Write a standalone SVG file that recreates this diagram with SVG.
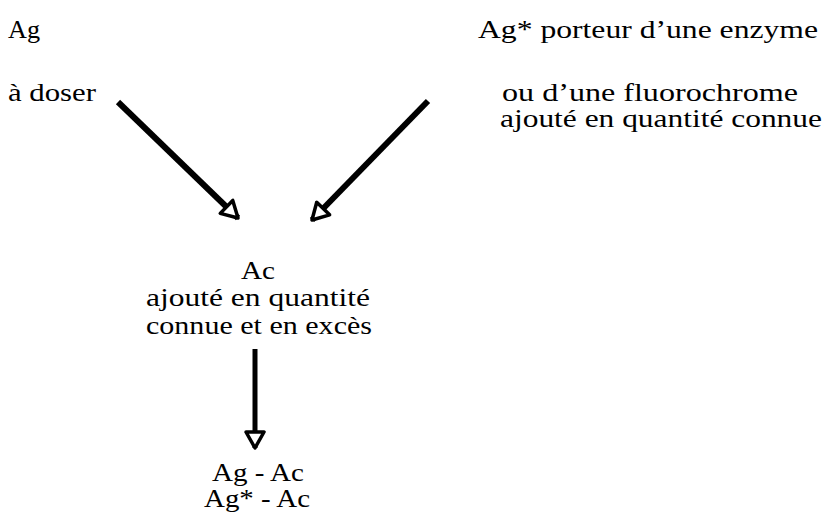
<svg xmlns="http://www.w3.org/2000/svg" width="825" height="518" viewBox="0 0 825 518">
<style>
  text { font-family: 'Times New Roman', Tinos, 'Nimbus Roman', 'Nimbus Roman No9 L', FreeSerif, 'Noto Serif', 'DejaVu Serif', serif; font-size: 25px; fill: #000; }
  .c { text-anchor: middle; }
  .conn { stroke: #000; fill: none; stroke-linecap: butt; }
</style>
<defs>
  <marker id="head" markerUnits="userSpaceOnUse" markerWidth="40" markerHeight="40" viewBox="-25 -20 40 40" refX="0" refY="0" orient="auto" overflow="visible">
    <path d="M0,0 L-16,-9 L-16,9 Z" fill="#fff" stroke="#000" stroke-width="3.5" stroke-linejoin="round"/>
  </marker>
</defs>
<rect width="825" height="518" fill="#fff"/>
<g id="ag">
  <text x="8" y="38" textLength="32" lengthAdjust="spacingAndGlyphs">Ag</text>
  <text x="8" y="101" textLength="88" lengthAdjust="spacingAndGlyphs">à doser</text>
</g>
<g id="ag-star">
  <text x="478" y="38" textLength="340" lengthAdjust="spacingAndGlyphs">Ag* porteur d’une enzyme</text>
  <text x="502" y="101" textLength="296" lengthAdjust="spacingAndGlyphs">ou d’une fluorochrome</text>
  <text x="500" y="127" textLength="322" lengthAdjust="spacingAndGlyphs">ajouté en quantité connue</text>
</g>
<g id="ac">
  <text x="241" y="279" textLength="34" lengthAdjust="spacingAndGlyphs">Ac</text>
  <text x="146" y="306" textLength="224" lengthAdjust="spacingAndGlyphs">ajouté en quantité</text>
  <text x="146" y="334" textLength="226" lengthAdjust="spacingAndGlyphs">connue et en excès</text>
</g>
<g id="complex">
  <text x="212" y="481" textLength="92" lengthAdjust="spacingAndGlyphs">Ag - Ac</text>
  <text x="204" y="507" textLength="106" lengthAdjust="spacingAndGlyphs">Ag* - Ac</text>
</g>
<g id="connectors">
  <line class="conn" x1="118" y1="102" x2="238" y2="218" stroke-width="6" marker-end="url(#head)"/>
  <line class="conn" x1="428" y1="101" x2="312" y2="220" stroke-width="6" marker-end="url(#head)"/>
  <line class="conn" x1="255" y1="349" x2="255" y2="448" stroke-width="5" marker-end="url(#head)"/>
</g>
</svg>
